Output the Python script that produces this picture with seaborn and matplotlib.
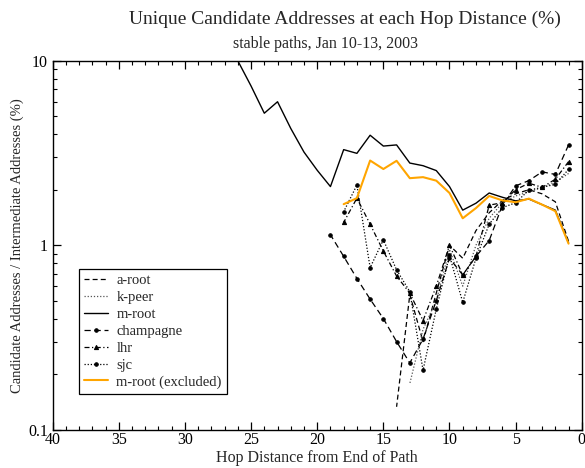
import numpy as np
import pandas as pd
import matplotlib
matplotlib.use("Agg")
import matplotlib.pyplot as plt
import matplotlib.ticker as mticker
import seaborn as sns

# ---- data ----
mroot_hops = [27, 26, 25, 24, 23, 22, 21, 20, 19, 18, 17, 16, 15, 14, 13, 12, 11, 10, 9, 8, 7, 6, 5, 4, 3, 2, 1]
mroot_vals = [14.0, 10.0, 7.3, 5.2, 6.0, 4.3, 3.2, 2.55, 2.08, 3.3, 3.15, 3.95, 3.45, 3.5, 2.79, 2.70, 2.54, 2.08, 1.55, 1.69, 1.92, 1.82, 1.74, 1.78, 1.66, 1.55, 1.03]

mrx_hops = [18, 17, 16, 15, 14, 13, 12, 11, 10, 9, 8, 7, 6, 5, 4, 3, 2, 1]
mrx_vals = [1.67, 1.80, 2.88, 2.59, 2.87, 2.31, 2.34, 2.24, 1.92, 1.40, 1.59, 1.85, 1.75, 1.71, 1.79, 1.66, 1.53, 1.02]

aroot_hops = [14, 13, 12, 11, 10, 9, 8, 7, 6, 5, 4, 3, 2, 1]
aroot_vals = [0.133, 0.54, 0.30, 0.55, 1.0, 0.85, 1.2, 1.5, 1.75, 1.9, 2.0, 1.9, 1.72, 1.05]

kpeer_hops = [13, 12, 11, 10, 9, 8, 7, 6, 5, 4, 3, 2, 1]
kpeer_vals = [0.178, 0.35, 0.50, 0.95, 0.60, 1.0, 1.4, 1.7, 1.85, 1.95, 2.05, 2.2, 2.45]

champ_hops = [19, 18, 17, 16, 15, 14, 13, 12, 11, 10, 9, 8, 7, 6, 5, 4, 3, 2, 1]
champ_vals = [1.14, 0.87, 0.66, 0.51, 0.40, 0.30, 0.23, 0.31, 0.50, 0.85, 0.69, 0.87, 1.06, 1.65, 2.10, 2.24, 2.50, 2.42, 3.5]

lhr_hops = [18, 17, 16, 15, 14, 13, 12, 11, 10, 9, 8, 7, 6, 5, 4, 3, 2, 1]
lhr_vals = [1.33, 1.80, 1.30, 0.93, 0.68, 0.55, 0.39, 0.60, 1.0, 0.69, 0.87, 1.65, 1.70, 2.0, 2.17, 2.06, 2.28, 2.84]

sjc_hops = [18, 17, 16, 15, 14, 13, 12, 11, 10, 9, 8, 7, 6, 5, 4, 3, 2, 1]
sjc_vals = [1.52, 2.12, 0.756, 1.07, 0.735, 0.56, 0.21, 0.45, 0.88, 0.49, 0.85, 1.3, 1.6, 1.70, 1.99, 2.06, 2.14, 2.58]

x_ticks = [40, 35, 30, 25, 20, 15, 10, 5, 0]
y_ticks = [0.1, 1, 10]
y_ticklabels = ["0.1", "1", "10"]

# ---- style ----
sns.set_style("ticks")
plt.rcParams["font.family"] = ["Liberation Serif", "DejaVu Serif"]

fig = plt.figure(figsize=(5.85, 4.68), dpi=100)
ax = fig.add_axes([0.090, 0.082, 0.9045, 0.788])

series = [
    ("a-root", aroot_hops, aroot_vals, dict(color="black", linestyle=(0, (4, 2.5)), linewidth=0.9)),
    ("k-peer", kpeer_hops, kpeer_vals, dict(color="#555555", linestyle=(0, (1, 1.5)), linewidth=0.9)),
    ("m-root", mroot_hops, mroot_vals, dict(color="black", linestyle="-", linewidth=1.0)),
    ("champagne", champ_hops, champ_vals, dict(color="black", linestyle=(0, (5, 3)), linewidth=0.9, marker="o", markersize=2.5)),
    ("lhr", lhr_hops, lhr_vals, dict(color="black", linestyle=(0, (4, 2, 1, 2)), linewidth=0.9, marker="^", markersize=3)),
    ("sjc", sjc_hops, sjc_vals, dict(color="black", linestyle=(0, (1, 1.5)), linewidth=0.9, marker="o", markersize=2.5)),
    ("m-root (excluded)", mrx_hops, mrx_vals, dict(color="#FFA500", linestyle="-", linewidth=1.5)),
]

for name, hx, hv, kw in series:
    df = pd.DataFrame({"hop": hx, "pct": hv})
    sns.lineplot(data=df, x="hop", y="pct", ax=ax, label=name,
                 markeredgecolor="black" if "marker" in kw else None, **kw)

ax.set_yscale("log")
ax.set_xlim(40, 0)
ax.set_ylim(0.1, 10)

ax.set_xticks(x_ticks)
ax.set_xticklabels([str(t) for t in x_ticks])
ax.xaxis.set_minor_locator(mticker.MultipleLocator(1))
ax.set_yticks(y_ticks)
ax.set_yticklabels(y_ticklabels)
ax.yaxis.set_minor_locator(mticker.LogLocator(base=10, subs=np.arange(2, 10)))
ax.yaxis.set_minor_formatter(mticker.NullFormatter())

ax.tick_params(which="both", direction="in", top=True, right=True, colors="black", labelsize=11.5)
ax.tick_params(which="major", length=6, width=0.9)
ax.tick_params(which="minor", length=3, width=0.8)
ax.tick_params(axis="x", which="major", pad=2)
for s in ax.spines.values():
    s.set_visible(True)
    s.set_linewidth(1.0)
    s.set_color("black")

ax.set_xlabel("Hop Distance from End of Path", fontsize=11.5, labelpad=1)
ax.set_ylabel("Candidate Addresses / Intermediate Addresses (%)", fontsize=10.5, labelpad=3)

fig.text(0.59, 0.958, "Unique Candidate Addresses at each Hop Distance (%)",
         ha="center", va="center", fontsize=14)
fig.text(0.556, 0.905, "stable paths, Jan 10-13, 2003", ha="center", va="center", fontsize=11.5)

leg = ax.legend(loc="lower left", bbox_to_anchor=(0.05, 0.097), borderaxespad=0, fontsize=10.5,
                frameon=True, fancybox=False, edgecolor="black", framealpha=1,
                handlelength=1.6, handletextpad=0.6, labelspacing=0.25, borderpad=0.35)
leg.get_frame().set_linewidth(0.9)

fig.savefig("out.png", dpi=100)
